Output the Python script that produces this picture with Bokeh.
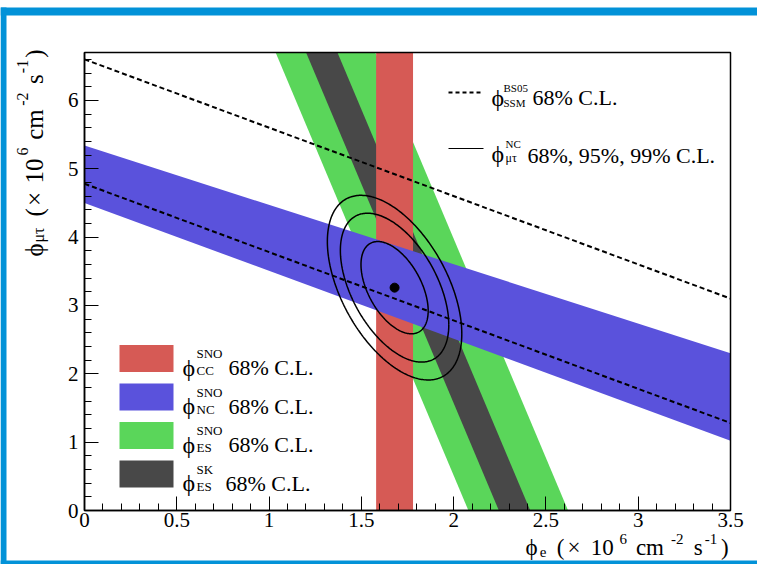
import numpy as np
from bokeh.plotting import figure
from bokeh.models import Range1d, Label, BoxAnnotation, FixedTicker
from bokeh.embed import file_html
from bokeh.resources import INLINE

# ---------------- data ----------------
x_axis_range = [0.0, 3.5]
y_axis_range = [0.0, 6.7]
x_ticks = [0, 0.5, 1, 1.5, 2, 2.5, 3, 3.5]
x_tick_labels = ["0", "0.5", "1", "1.5", "2", "2.5", "3", "3.5"]
y_ticks = [0, 1, 2, 3, 4, 5, 6]
y_tick_labels = ["0", "1", "2", "3", "4", "5", "6"]

cc_sno = [1.58, 1.78]            # phi_e band (68% C.L.)
nc_sno_upper = [5.34, 2.30]      # upper edge of NC band at phi_e = 0 and 3.5
nc_sno_lower = [4.50, 1.02]      # lower edge of NC band at phi_e = 0 and 3.5
es_sno = [2.08, 2.62]            # phi_e + w*phi_mutau band
es_sk = [2.245, 2.415]           # phi_e + w*phi_mutau band
ssm_bs05 = [4.78, 6.60]          # phi_e + phi_mutau (dashed)
es_weight = 0.1559
best_fit = [1.68, 3.26]
fit_sigma = [0.12, 0.445]
fit_rho = -0.5
cl_delta_chi2 = [2.30, 5.99, 9.21]

legend_sup = ["SNO", "SNO", "SNO", "SK"]
legend_sub = ["CC", "NC", "ES", "ES"]

RED = "#D65A55"
BLUE = "#5A52DC"
GREEN = "#5AD65A"
DARK = "#484848"
FRAME_BLUE = "#0292D8"
FONT = "Liberation Serif"

W, H = 757, 564
FL, FR, FT, FB = 84.0, 730.0, 52.0, 510.0   # plot box in canvas pixels

def X(px):
    return x_axis_range[0] + (px - FL) * (x_axis_range[1] - x_axis_range[0]) / (FR - FL)

def Y(py):
    return y_axis_range[0] + (FB - py) * (y_axis_range[1] - y_axis_range[0]) / (FB - FT)

p = figure(width=W, height=H, output_backend="svg", toolbar_location=None,
           x_range=Range1d(X(0), X(W)), y_range=Range1d(Y(H), Y(0)),
           min_border=0, background_fill_color="white", border_fill_color="white")
p.xgrid.visible = False
p.ygrid.visible = False
p.outline_line_color = None

# ---------------- bands (bounded to the plot box) ----------------
y0, y1 = y_axis_range
x0, x1 = x_axis_range

def es_band(b):
    xs = [b[0] - es_weight * y0, b[1] - es_weight * y0, b[1] - es_weight * y1, b[0] - es_weight * y1]
    return xs, [y0, y0, y1, y1]

xs, ys = es_band(es_sno)
p.patch(xs, ys, fill_color=GREEN, line_color=None)
xs, ys = es_band(es_sk)
p.patch(xs, ys, fill_color=DARK, line_color=None)
p.quad(left=[cc_sno[0]], right=[cc_sno[1]], bottom=[y0], top=[y1], fill_color=RED, line_color=None)
p.patch([x0, x0, x1, x1],
        [nc_sno_lower[0], nc_sno_upper[0], nc_sno_upper[1], nc_sno_lower[1]],
        fill_color=BLUE, line_color=None)

# SSM dashed lines
for s in ssm_bs05:
    p.line([x0, x1], [s - x0, s - x1], line_color="black", line_width=2, line_dash="5 3")

# contours
t = np.linspace(0, 2 * np.pi, 300)
sx, sy = fit_sigma
for d in cl_delta_chi2:
    k = np.sqrt(d)
    ex = best_fit[0] + k * sx * np.cos(t)
    ey = best_fit[1] + k * sy * (fit_rho * np.cos(t) + np.sqrt(1 - fit_rho ** 2) * np.sin(t))
    p.line(ex, ey, line_color="black", line_width=1.5)

p.scatter([best_fit[0]], [best_fit[1]], size=9, color="black")

# plot box
p.add_layout(BoxAnnotation(left=x0, right=x1, bottom=y0, top=y1, fill_alpha=0,
                           line_color="black", line_width=1.5, line_alpha=1))

# ---------------- axes (fixed at the box edges) ----------------
for ax in (p.xaxis[0], p.yaxis[0]):
    ax.fixed_location = 0
    ax.axis_line_color = "black"
    ax.axis_line_width = 1.5
    ax.major_tick_in = 14
    ax.major_tick_out = 0
    ax.minor_tick_in = 7
    ax.minor_tick_out = 0
    ax.major_tick_line_width = 1
    ax.minor_tick_line_width = 1
    ax.major_label_text_font = FONT
    ax.major_label_text_font_size = "21px"
    ax.major_label_text_color = "black"

p.xaxis.bounds = (x0, x1)
p.yaxis.bounds = (y0, y1)
p.xaxis.ticker = FixedTicker(ticks=x_ticks, minor_ticks=[round(0.1 * i, 2) for i in range(36)])
p.xaxis.major_label_overrides = {v: l for v, l in zip(x_ticks, x_tick_labels)}
p.xaxis.major_label_standoff = 2
p.yaxis.ticker = FixedTicker(ticks=y_ticks, minor_ticks=[round(0.2 * i, 2) for i in range(34)])
p.yaxis.major_label_overrides = {v: l for v, l in zip(y_ticks, y_tick_labels)}
p.yaxis.major_label_standoff = 6

# ---------------- text helpers ----------------
CW = {'(': .333, ')': .333, '\u00d7': .564, ' ': .25, 'c': .444, 'm': .778, 's': .389, '-': .333,
      'e': .444, '\u03d5': .5, '\u03bc': .55, '\u03c4': .45, '%': .833, ',': .25, '.': .25,
      'C': .667, 'L': .611}

def adv(s, size):
    return sum(CW.get(c, 0.5) for c in s) * size

def lab(text, px, py, size, angle=0.0):
    p.add_layout(Label(x=X(px), y=Y(py), text=text, text_font=FONT, text_font_size=f"{size}px",
                       text_align="left", text_baseline="alphabetic", angle=angle, text_color="black"))

def rich(pieces, start, end, base, sizes, shifts, vertical=False):
    # pieces: (text, kind, gap_before in em of the main size)
    gaps = [g * sizes["n"] for _, _, g in pieces]
    widths = [adv(tx, sizes[k]) for tx, k, _ in pieces]
    scale = abs(end - start) / (sum(widths) + sum(gaps))
    sgn = 1 if end > start else -1
    pos = start
    for (tx, k, _), w, g in zip(pieces, widths, gaps):
        pos += sgn * g * scale
        if vertical:
            lab(tx, base + shifts[k], pos, sizes[k], angle=np.pi / 2)
        else:
            lab(tx, pos, base + shifts[k], sizes[k])
        pos += sgn * w * scale

unit_pieces = [("(", "n", 0.3), ("\u00d7", "n", 0.04), ("10", "n", 0.25), ("6", "sup", 0.0),
               ("cm", "n", 0.25), ("-2", "sup", 0.0), ("s", "n", 0.25), ("-1", "sup", 0.0),
               (")", "n", 0.02)]

# x axis title
rich([("\u03d5", "n", 0), ("e", "sub", 0.0)] + unit_pieces, 525, 730, 547,
     {"n": 23, "sup": 15, "sub": 15}, {"n": 0, "sup": -9, "sub": 4})
# y axis title (rotated)
rich([("\u03d5", "n", 0), ("\u03bc\u03c4", "sub", 0.0)] + unit_pieces, 256, 48, 34,
     {"n": 25, "sup": 16, "sub": 16}, {"n": 0, "sup": -12, "sub": 4}, vertical=True)

# ---------------- lower legend ----------------
row_centers = [358, 396.5, 435, 473.5]
for rc, col, sup, sub in zip(row_centers, [RED, BLUE, GREEN, DARK], legend_sup, legend_sub):
    p.add_layout(BoxAnnotation(left=X(119), right=X(173), top=Y(rc - 13.5), bottom=Y(rc + 13.5),
                               fill_color=col, fill_alpha=1, line_color=None))
    lab("\u03d5", 182, rc + 9, 24)
    lab(sup, 196, rc - 5, 13)
    lab(sub, 196, rc + 12, 13)
    lab("68% C.L.", 228 if sup == "SNO" else 225, rc + 9, 22)

# ---------------- upper legend ----------------
p.line([X(448), X(480)], [Y(92), Y(92)], line_color="black", line_width=2, line_dash="4 3")
lab("\u03d5", 491, 97, 24)
lab("BS05", 503, 87, 11)
lab("SSM", 503, 102, 11)
lab("68% C.L.", 532, 97, 22)

p.line([X(448), X(483)], [Y(148), Y(148)], line_color="black", line_width=1)
lab("\u03d5", 491, 153, 24)
lab("NC", 505, 143, 11)
lab("\u03bc\u03c4", 505, 157, 12)
lab("68%, 95%, 99% C.L.", 527, 155, 22)

# ---------------- slide border ----------------
for l, r, tp, bt in [(0, 6, 7, H), (0, W, 7, 15), (0, W, H - 4, H)]:
    p.add_layout(BoxAnnotation(left=X(l), right=X(r), top=Y(tp), bottom=Y(bt),
                               fill_color=FRAME_BLUE, fill_alpha=1, line_color=None, level="overlay"))

open("out.html", "w").write(file_html(p, INLINE))
